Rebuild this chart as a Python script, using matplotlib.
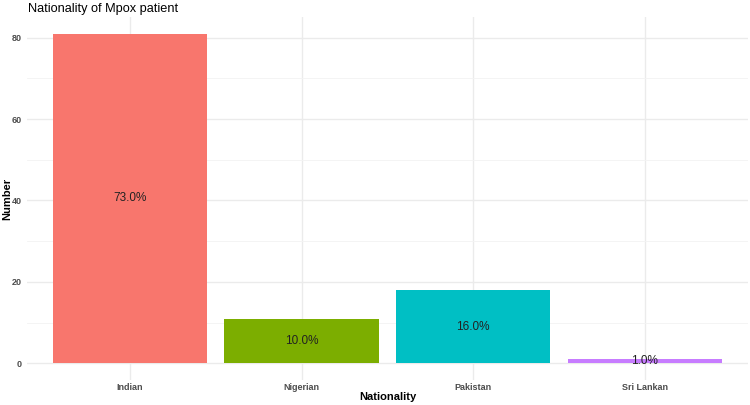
import matplotlib
matplotlib.use("Agg")
import matplotlib.pyplot as plt
import numpy as np

nationality = ["Indian", "Nigerian", "Pakistan", "Sri Lankan"]
counts = [81, 11, 18, 1]
pct_labels = ["73.0%", "10.0%", "16.0%", "1.0%"]
bar_colors = ["#F8766D", "#7CAE00", "#00BFC4", "#C77CFF"]

plt.rcParams["font.family"] = ["Liberation Sans", "DejaVu Sans"]

fig = plt.figure(figsize=(7.5, 4.05), dpi=100)
ax = fig.add_axes([0.036, 0.062, 0.961, 0.896])

x = np.arange(1, len(nationality) + 1)
ax.bar(x, counts, width=0.9, color=bar_colors, zorder=2)
for xi, c, lab in zip(x, counts, pct_labels):
    ax.text(xi, c / 2, lab, ha="center", va="center", fontsize=8.5, color="#222222", zorder=3)

ax.set_xlim(0.4, 4.6)
ax.set_ylim(-4.05, 85.05)
ax.set_xticks(x)
ax.set_xticklabels(nationality)
ax.set_yticks([0, 20, 40, 60, 80])
ax.set_yticks([10, 30, 50, 70], minor=True)

ax.grid(True, which="major", color="#EBEBEB", linewidth=1.0, zorder=0)
ax.grid(True, which="minor", axis="y", color="#F3F3F3", linewidth=0.6, zorder=0)
ax.set_axisbelow(True)
for s in ax.spines.values():
    s.set_visible(False)
ax.tick_params(which="both", length=0, labelsize=6.5, labelcolor="#4D4D4D")
ax.tick_params(axis="x", pad=2)
ax.tick_params(axis="y", pad=4)
for t in ax.get_xticklabels() + ax.get_yticklabels():
    t.set_fontweight("bold")

# axis titles placed in figure pixels, like the ggplot layout
fig.text(388 / 750, 1 - 397 / 405, "Nationality", fontsize=8, fontweight="bold",
         ha="center", va="center")
fig.text(7 / 750, 1 - 199 / 405, "Number", fontsize=8, fontweight="bold",
         ha="center", va="center", rotation=90)
fig.text(0.037, 0.979, "Nationality of Mpox patient", fontsize=9.2, ha="left", va="center")

fig.savefig("out.png", dpi=100, facecolor="white")
